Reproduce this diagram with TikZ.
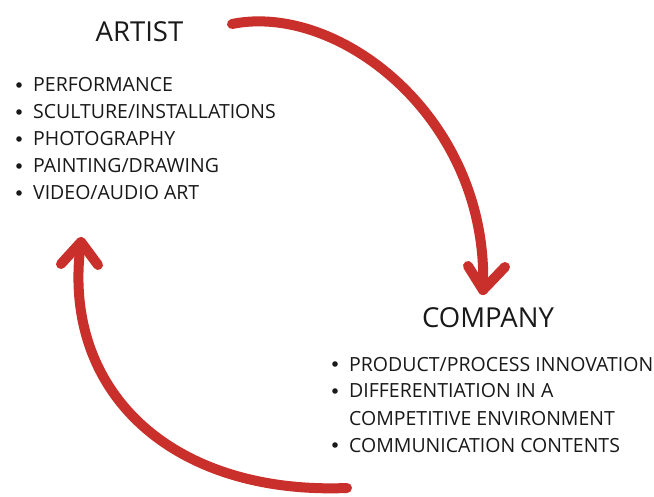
\documentclass[tikz,border=0pt]{standalone}
\usepackage{fontspec}
\setmainfont{Open Sans}
\definecolor{arrowred}{RGB}{201,48,44}
\definecolor{inkgray}{RGB}{25,25,25}
\begin{document}
\begin{tikzpicture}[x=1pt,y=-1pt,
  title/.style={inner sep=0pt,anchor=base,text=inkgray,font=\fontsize{27.5}{32}\selectfont},
  item/.style={inner sep=0pt,anchor=base west,text=inkgray,font=\fontsize{19.5}{23}\selectfont},
  flow/.style={draw=arrowred,line width=10pt,line cap=round,line join=round}]
\useasboundingbox[fill=white] (0,0) rectangle (654,497);

% artist block
\node[title] (artist) at (139.5,42) {ARTIST};
\node[item] (a1) at (33,92)  {PERFORMANCE};
\node[item] (a2) at (33,119) {SCULTURE/INSTALLATIONS};
\node[item] (a3) at (33,146) {PHOTOGRAPHY};
\node[item] (a4) at (33,173) {PAINTING/DRAWING};
\node[item] (a5) at (33,200) {VIDEO/AUDIO ART};
\foreach \n in {a1,a2,a3,a4,a5}
  \fill[inkgray] (\n.base west) ++(-14,-7) circle (2.8);

% company block
\node[title] (company) at (488,327) {COMPANY};
\node[item] (c1) at (349,371) {PRODUCT/PROCESS INNOVATION};
\node[item] (c2) at (349,398) {DIFFERENTIATION IN A};
\node[item] (c3) at (349,425) {COMPETITIVE ENVIRONMENT};
\node[item] (c4) at (349,452) {COMMUNICATION CONTENTS};
\foreach \n in {c1,c2,c4}
  \fill[inkgray] (\n.base west) ++(-14,-7) circle (2.8);

% arrow ends
\coordinate (s1) at (232,24);
\coordinate (t1) at (483,290);
\coordinate (l1) at (468,266);
\coordinate (r1) at (505,267);
\coordinate (s2) at (347,488);
\coordinate (t2) at (81,242);
\coordinate (l2) at (61,264);
\coordinate (r2) at (98,265);

% artist -> company
\draw[flow] (s1) .. controls (340,2) and (490,120) .. (t1);
\draw[flow] (l1) -- (t1) -- (r1);
% company -> artist
\draw[flow] (s2) .. controls (170,495) and (60,390) .. (t2);
\draw[flow] (l2) -- (t2) -- (r2);
\end{tikzpicture}
\end{document}
